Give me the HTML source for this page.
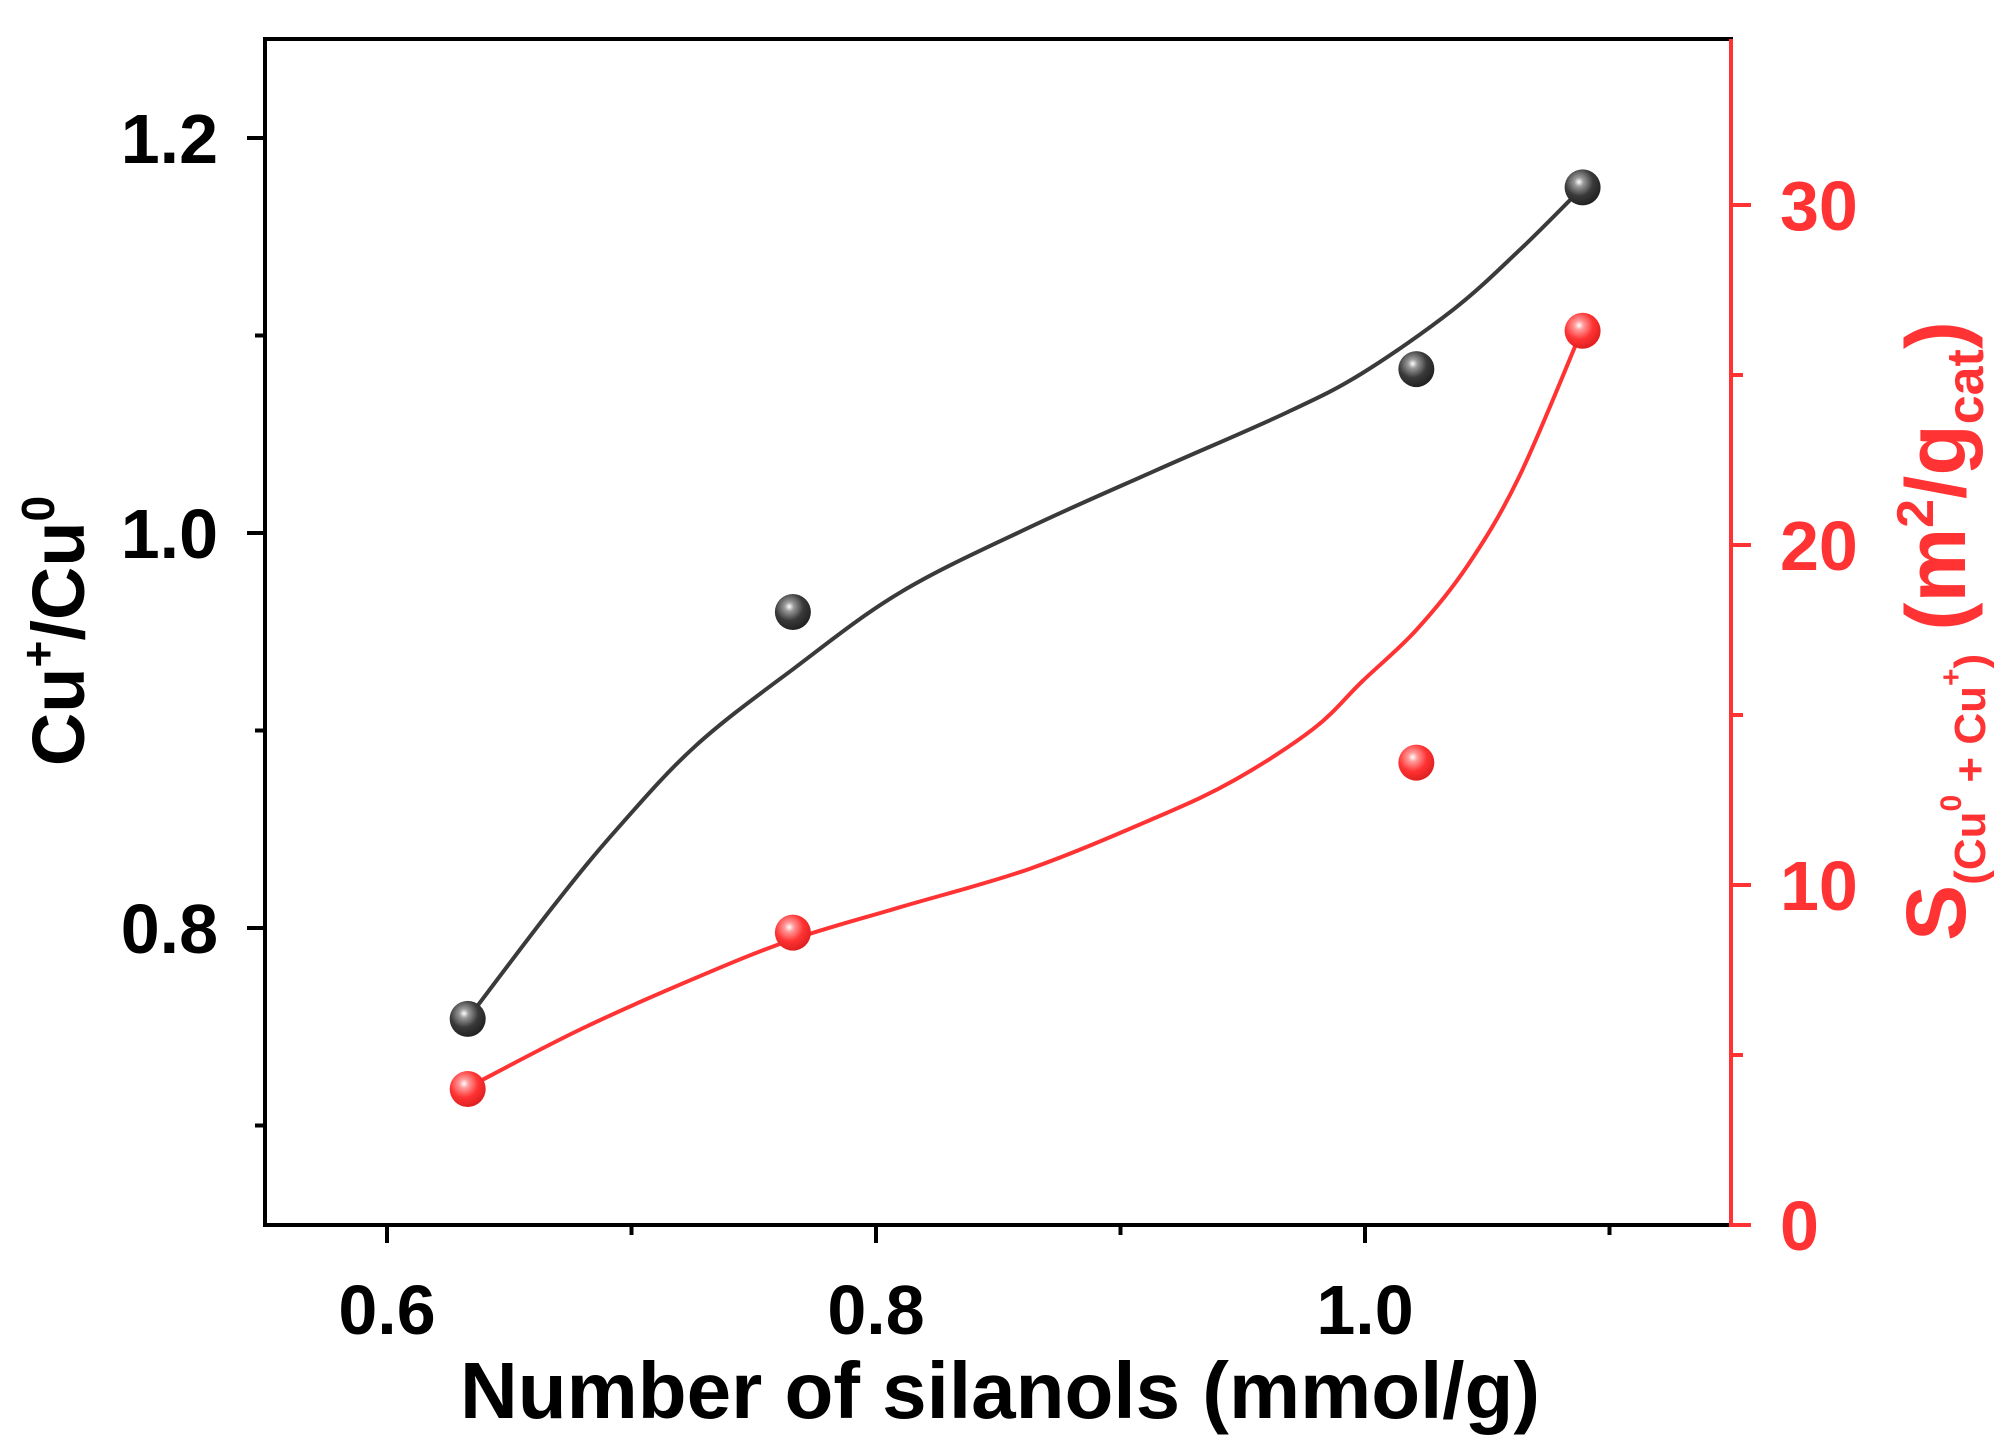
<!DOCTYPE html>
<html><head><meta charset="utf-8"><style>
html,body{margin:0;padding:0;background:#fff;}
svg{display:block;font-family:"Liberation Sans",Arial,sans-serif;font-weight:bold;}
</style></head><body>
<svg id="chart" width="2008" height="1451" viewBox="0 0 2008 1451">
<defs>
<radialGradient id="gBlack" cx="0.4" cy="0.35" r="0.65"><stop offset="0" stop-color="#fff"/><stop offset="0.2" stop-color="#999"/><stop offset="0.6" stop-color="#3a3a3a"/><stop offset="1" stop-color="#222"/></radialGradient>
<radialGradient id="gRed" cx="0.4" cy="0.35" r="0.65"><stop offset="0" stop-color="#fff"/><stop offset="0.2" stop-color="#ff9a9a"/><stop offset="0.6" stop-color="#ff3333"/><stop offset="1" stop-color="#e02020"/></radialGradient>
</defs>
<g id="plot"></g>
</svg>
<script>
const xTicks=[0.6,0.8,1.0];
const xMinor=[0.7,0.9,1.1];
const yTicks=[0.8,1.0,1.2];
const yMinor=[0.7,0.9,1.1];
const y2Ticks=[0,10,20,30];
const y2Minor=[5,15,25];
const ptX=[0.633,0.766,1.021,1.089];
const ptCu=[0.754,0.960,1.083,1.175];
const ptS=[4.0,8.6,13.6,26.3];
const curveX1=[0.633,0.668,0.694,0.726,0.766,0.810,0.863,0.915,0.968,0.999,1.036,1.063,1.085];
const curveY1=[0.754,0.811,0.850,0.892,0.931,0.970,1.003,1.032,1.061,1.081,1.113,1.143,1.170];
const curveX2=[0.633,0.679,0.726,0.766,0.810,0.863,0.915,0.947,0.979,0.999,1.021,1.042,1.063,1.088];
const curveY2=[4.04,5.75,7.26,8.40,9.35,10.48,12.0,13.1,14.6,16.0,17.5,19.4,22.0,26.2];

const L=265,R=1731,T=39,B=1225;
const X=v=>387+(v-0.6)/0.2*489;
const Y=v=>533-(v-1.0)/0.2*395;
const Y2=v=>1225-v*34;
const NS='http://www.w3.org/2000/svg';
const g=document.getElementById('plot');
function mk(tag,attrs,parent){const e=document.createElementNS(NS,tag);for(const k in attrs)e.setAttribute(k,attrs[k]);(parent||g).appendChild(e);return e;}
const RED='#ff3333';

let e;
e=mk('rect',{x:L,y:T,width:R-L,height:B-T,fill:'none',stroke:'#000','stroke-width':4});


e=mk('line',{x1:R,y1:T,x2:R,y2:B+2,stroke:RED,'stroke-width':4});



xTicks.forEach(v=>{
 e=mk('line',{x1:X(v),y1:B,x2:X(v),y2:B+18,stroke:'#000','stroke-width':4});
 
 
 e=mk('text',{x:X(v),y:1334,'text-anchor':'middle','font-size':70});
 e.textContent=v.toFixed(1);
 
 
});
xMinor.forEach(v=>{
 e=mk('line',{x1:X(v),y1:B,x2:X(v),y2:B+10,stroke:'#000','stroke-width':4});
 
 
});
yTicks.forEach(v=>{
 e=mk('line',{x1:L-18,y1:Y(v),x2:L,y2:Y(v),stroke:'#000','stroke-width':4});
 
 
 e=mk('text',{x:218,y:Y(v)+25,'text-anchor':'end','font-size':70});
 e.textContent=v.toFixed(1);
 
 
});
yMinor.forEach(v=>{
 e=mk('line',{x1:L-10,y1:Y(v),x2:L,y2:Y(v),stroke:'#000','stroke-width':4});
 
 
});
y2Ticks.forEach(v=>{
 e=mk('line',{x1:R,y1:Y2(v),x2:R+20,y2:Y2(v),stroke:RED,'stroke-width':4});
 
 
 e=mk('text',{x:1780,y:Y2(v)+25,'text-anchor':'start','font-size':70,fill:RED});
 e.textContent=String(v);
 
 
});
y2Minor.forEach(v=>{
 e=mk('line',{x1:R,y1:Y2(v),x2:R+12,y2:Y2(v),stroke:RED,'stroke-width':4});
 
 
});

function smooth(xs,ys,fy){
 const p=xs.map((v,i)=>[X(v),fy(ys[i])]);
 let d='M'+p[0][0].toFixed(1)+','+p[0][1].toFixed(1);
 for(let i=0;i<p.length-1;i++){
  const p0=p[Math.max(0,i-1)],p1=p[i],p2=p[i+1],p3=p[Math.min(p.length-1,i+2)];
  const c1=[p1[0]+(p2[0]-p0[0])/6,p1[1]+(p2[1]-p0[1])/6];
  const c2=[p2[0]-(p3[0]-p1[0])/6,p2[1]-(p3[1]-p1[1])/6];
  d+=' C'+c1.map(n=>n.toFixed(1)).join(',')+' '+c2.map(n=>n.toFixed(1)).join(',')+' '+p2[0].toFixed(1)+','+p2[1].toFixed(1);
 }
 return d;
}
e=mk('path',{d:smooth(curveX1,curveY1,Y),fill:'none',stroke:'#3a3a3a','stroke-width':4});


e=mk('path',{d:smooth(curveX2,curveY2,Y2),fill:'none',stroke:RED,'stroke-width':4});



ptX.forEach((v,i)=>{
 e=mk('circle',{cx:X(v),cy:Y(ptCu[i]),r:18,fill:'url(#gBlack)'});
 
 
 e=mk('circle',{cx:X(v),cy:Y2(ptS[i]),r:18,fill:'url(#gRed)'});
 
 
});
</script>
<svg width="2008" height="1451" viewBox="0 0 2008 1451" style="position:absolute;left:0;top:0;font-family:'Liberation Sans',Arial,sans-serif;font-weight:bold;">
<text x="1000" y="1418" text-anchor="middle" font-size="80">Number of silanols (mmol/g)</text>
<text transform="translate(84,631) rotate(-90)" text-anchor="middle" font-size="74">Cu<tspan font-size="46" dy="-30">+</tspan><tspan dy="30">/Cu</tspan><tspan font-size="46" dy="-30">0</tspan></text>
<text transform="translate(1965,631) rotate(-90)" text-anchor="middle" font-size="84" fill="#ff3333">S<tspan font-size="44" dy="20">(Cu</tspan><tspan font-size="30" dy="-24">0</tspan><tspan font-size="44" dy="24"> + Cu</tspan><tspan font-size="30" dy="-24">+</tspan><tspan font-size="44" dy="24">)</tspan><tspan dy="-20">  (m</tspan><tspan font-size="52" dy="-32">2</tspan><tspan dy="32">/g</tspan><tspan font-size="52" dy="18">cat</tspan><tspan dy="-18">)</tspan></text>
</svg>
</body></html>
